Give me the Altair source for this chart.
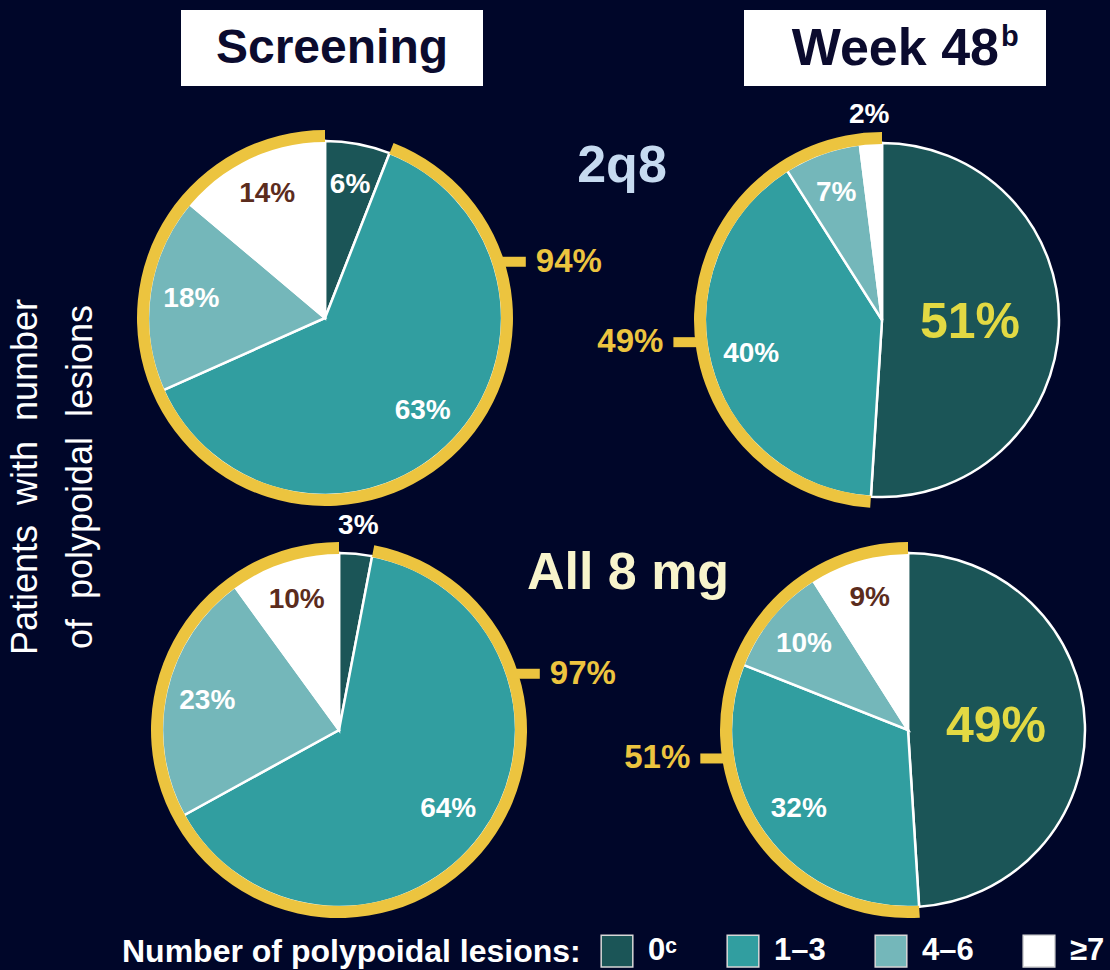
import math
import altair as alt
import pandas as pd

# ---------------- data ----------------
categories = ["0ᶜ", "1–3", "4–6", "≥7"]
timepoints = ["Screening", "Week 48"]
timepoint_notes = ["", "b"]
groups = ["2q8", "All 8 mg"]
screening_2q8 = [6, 63, 18, 14]
week48_2q8 = [51, 40, 7, 2]
screening_all8 = [3, 64, 23, 10]
week48_all8 = [49, 32, 10, 9]
any_lesion_pct = [94, 49, 97, 51]
legend_title = "Number of polypoidal lesions:"
y_title = ["Patients with number", "of polypoidal lesions"]

pies = [screening_2q8, week48_2q8, screening_all8, week48_all8]

rows = []
ring_rows = []
for pid, vals in enumerate(pies):
    total = sum(vals)
    cum = 0
    for cat, v in zip(categories, vals):
        rows.append(dict(pie=pid, category=cat, value=v,
                         start=cum / total * 100, end=(cum + v) / total * 100,
                         mid=(cum + v / 2) / total * 100))
        cum += v
    ring_rows.append(dict(pie=pid, start=vals[0] / total * 100, end=100,
                          label=f"{any_lesion_pct[pid]}%"))
slices = pd.DataFrame(rows)
rings = pd.DataFrame(ring_rows)

# ---------------- style / layout ----------------
FONT = "Liberation Sans, Arial, Helvetica, sans-serif"
BG = "#000629"
GOLD = "#ecc43f"
BIG = "#e2d943"
BROWN = "#5b2c1d"
colors = ["#1b5557", "#319ea0", "#74b7ba", "#ffffff"]
CENTERS = [(325, 318), (882, 320), (339, 730), (908, 730)]
TICK_DEG = [72, 263, 72, 261]
R_PIE = 177
R_RING = 188

theta_scale = alt.Scale(domain=[0, 100], range=[0, 2 * math.pi])
color_scale = alt.Scale(domain=categories, range=colors)
legend = alt.Legend(
    title=legend_title, orient="none", legendX=122, legendY=934,
    direction="horizontal", titleOrient="left", titleFont=FONT,
    titleFontSize=32, titleFontWeight="bold", titleColor="white",
    titleLimit=800, titlePadding=19, titleBaseline="middle",
    labelFont=FONT, labelFontSize=31, labelFontWeight="bold",
    labelColor="white", labelOffset=14, columnPadding=46,
    symbolType="square", symbolSize=1000, symbolStrokeColor="#d8d8d8",
    symbolStrokeWidth=1.5, symbolOpacity=1, padding=0,
)

layers = []

# y title
NB = "\u00a0\u00a0"
for line, x in zip(y_title, [37, 92]):
    layers.append(
        alt.Chart(pd.DataFrame({"t": [line.replace(" ", NB)]})).mark_text(
            angle=270, font=FONT, fontSize=36, color="white",
            align="center", baseline="alphabetic"
        ).encode(x=alt.value(x), y=alt.value(477), text="t:N")
    )

# headers
HEADER_BOX = [(181, 483), (744, 1046)]
for name, note, (x0, x1) in zip(timepoints, timepoint_notes, HEADER_BOX):
    hd = pd.DataFrame({"t": [name], "n": [note]})
    layers.append(alt.Chart(hd).mark_rect(fill="white").encode(
        x=alt.value(x0), x2=alt.value(x1), y=alt.value(10), y2=alt.value(86)))
    if note:
        layers.append(alt.Chart(hd).mark_text(
            font=FONT, fontSize=52, fontWeight="bold", color="#0b0b2e",
            align="right", baseline="middle").encode(
            x=alt.value(999), y=alt.value(49), text="t:N"))
        layers.append(alt.Chart(hd).mark_text(
            font=FONT, fontSize=29, fontWeight="bold", color="#0b0b2e",
            align="left", baseline="middle").encode(
            x=alt.value(1001), y=alt.value(37), text="n:N"))
    else:
        layers.append(alt.Chart(hd).mark_text(
            font=FONT, fontSize=48, fontWeight="bold", color="#0b0b2e",
            align="center", baseline="middle").encode(
            x=alt.value((x0 + x1) / 2), y=alt.value(49), text="t:N"))

# row labels
for name, (x, y, c) in zip(groups, [(622, 166, "#c6daf0"), (628, 573, "#f8f4cc")]):
    layers.append(alt.Chart(pd.DataFrame({"t": [name]})).mark_text(
        font=FONT, fontSize=52, fontWeight="bold", color=c,
        align="center", baseline="middle").encode(
        x=alt.value(x), y=alt.value(y), text="t:N"))

c0 = categories[0]
c3 = categories[3]
for pid, (cx, cy) in enumerate(CENTERS):
    base = alt.Chart(slices).transform_filter(alt.datum.pie == pid)
    pos = dict(x=alt.value(cx), y=alt.value(cy))
    layers.append(base.mark_arc(radius=R_PIE, stroke="white", strokeWidth=2.5).encode(
        theta=alt.Theta("start:Q", scale=theta_scale), theta2="end:Q",
        color=alt.Color("category:N", scale=color_scale, legend=legend),
        **pos))
    rbase = alt.Chart(rings).transform_filter(alt.datum.pie == pid)
    layers.append(rbase.mark_arc(radius=R_RING, radius2=R_PIE - 1, color=GOLD).encode(
        theta=alt.Theta("start:Q", scale=theta_scale), theta2="end:Q", **pos))

    lab = base.transform_calculate(label="datum.value + '%'")
    big = f"(datum.category == '{c0}' && datum.value >= 40)"
    specs = [
        (big, 88, 50, BIG),
        ("datum.value < 5", 205, 28, "white"),
        (f"datum.value >= 5 && datum.category == '{c3}'", 137, 28, BROWN),
        (f"datum.value >= 5 && datum.category != '{c3}' && !{big}", 135, 28, "white"),
    ]
    for expr, r, fs, col in specs:
        layers.append(lab.transform_filter(expr).mark_text(
            radius=r, font=FONT, fontSize=fs, fontWeight="bold", color=col,
            align="center", baseline="middle").encode(
            theta=alt.Theta("mid:Q", scale=theta_scale), text="label:N", **pos))

    a = math.radians(TICK_DEG[pid])
    s, c = math.sin(a), math.cos(a)
    side = 1 if s > 0 else -1
    ty = cy - (R_PIE + 5) * c
    x_in = cx + (R_PIE + 5) * s
    x_out = cx + R_RING * s + side * 22
    layers.append(rbase.mark_rule(color=GOLD, strokeWidth=10, strokeCap="butt").encode(
        x=alt.value(x_in), x2=alt.value(x_out), y=alt.value(ty)))
    layers.append(rbase.mark_text(
        font=FONT, fontSize=33, fontWeight="bold", color=GOLD,
        align="left" if side > 0 else "right", baseline="middle").encode(
        x=alt.value(x_out + side * 10), y=alt.value(ty), text="label:N"))

chart = alt.layer(*layers).properties(
    width=1110, height=970, background=BG, padding=0,
    autosize=alt.AutoSizeParams(type="none"),
).configure_view(stroke=None)

chart.save("out.html", embed_options={"renderer": "svg", "actions": False})
